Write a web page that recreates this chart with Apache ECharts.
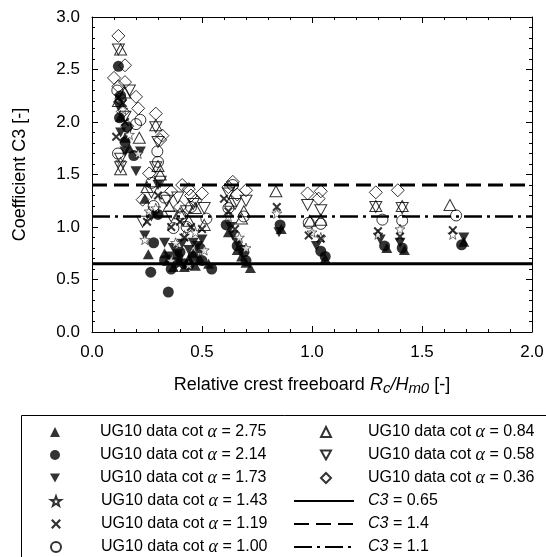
<!DOCTYPE html>
<html><head><meta charset="utf-8">
<script src="https://cdn.jsdelivr.net/npm/echarts@6/dist/echarts.min.js"></script>
<style>html,body{margin:0;padding:0;background:#fff}#c{width:546px;height:557px}</style>
</head><body><div id="c"></div>
<script>
// ---- data ----
const xTicks = [0, 0.5, 1.0, 1.5, 2.0];
const yTicks = [0, 0.5, 1.0, 1.5, 2.0, 2.5, 3.0];

const x275 = [0.13,0.17,0.15,0.24,0.256,0.33,0.35,0.37,0.40,0.42,0.44,0.46,0.47,0.49,0.53,0.62,0.66,0.68,0.70,0.72,0.86,1.06,1.34,1.42,1.69];
const y275 = [2.05,1.75,1.85,1.27,0.74,0.75,0.70,0.62,0.68,0.62,0.70,0.75,0.63,0.70,0.65,0.95,0.78,0.72,0.66,0.61,0.98,0.70,0.80,0.78,0.86];

const x214 = [0.12,0.125,0.13,0.15,0.16,0.19,0.267,0.28,0.30,0.33,0.347,0.36,0.38,0.39,0.40,0.42,0.44,0.46,0.49,0.50,0.544,0.61,0.66,0.69,0.70,0.855,1.04,1.06,1.33,1.41,1.68];
const y214 = [2.53,2.04,2.25,1.81,1.95,1.68,0.57,0.85,1.12,0.68,0.38,0.60,0.66,0.72,0.76,0.65,0.64,0.72,0.80,0.68,0.60,1.02,0.82,0.76,0.68,1.02,0.77,0.72,0.82,0.80,0.83];

const x173 = [0.12,0.13,0.15,0.20,0.22,0.30,0.27,0.24,0.33,0.35,0.37,0.39,0.41,0.44,0.46,0.48,0.50,0.63,0.64,0.66,0.68,0.85,1.02,1.31,1.40,1.69];
const y173 = [2.15,1.90,1.72,1.53,1.72,1.40,1.10,0.92,0.85,0.72,0.80,0.74,0.84,0.78,0.85,0.82,0.88,1.00,0.92,0.85,0.78,0.95,0.82,0.88,0.85,0.90];

const x143 = [0.14,0.21,0.17,0.13,0.24,0.26,0.29,0.38,0.42,0.47,0.51,0.36,0.44,0.62,0.67,0.70,0.84,1.00,1.04,1.30,1.40,1.64];
const y143 = [2.12,1.70,1.88,1.62,0.88,1.15,1.18,0.85,0.92,0.95,0.78,0.68,0.64,1.10,0.90,0.80,1.13,0.95,0.90,0.93,0.98,0.93];

const x119 = [0.12,0.11,0.15,0.14,0.25,0.30,0.29,0.36,0.40,0.45,0.42,0.50,0.60,0.62,0.65,0.84,0.985,1.04,1.30,1.40,1.64];
const y119 = [2.23,1.86,2.00,2.18,1.05,1.30,1.12,1.00,1.05,1.00,0.90,0.98,1.27,1.15,0.98,1.19,0.92,0.89,0.96,0.91,0.97];

const x100 = [0.115,0.118,0.13,0.22,0.20,0.297,0.30,0.28,0.27,0.33,0.37,0.41,0.45,0.43,0.52,0.62,0.64,0.69,0.985,1.04,1.32,1.41,1.655];
const y100 = [2.30,1.70,2.22,2.02,1.98,1.72,1.62,1.20,1.42,1.28,0.99,1.10,1.19,1.00,1.08,1.18,1.40,1.10,1.04,1.03,1.07,1.06,1.11];

const x084 = [0.13,0.12,0.15,0.13,0.215,0.29,0.30,0.31,0.25,0.35,0.40,0.44,0.47,0.51,0.63,0.68,0.69,0.836,0.99,1.04,1.29,1.41,1.627];
const y084 = [2.69,2.20,2.28,1.55,1.85,1.97,1.58,1.50,1.38,1.20,1.13,1.06,1.18,1.02,1.25,1.08,1.15,1.34,1.06,1.07,1.20,1.20,1.21];

const x058 = [0.12,0.13,0.13,0.17,0.15,0.29,0.30,0.29,0.31,0.23,0.27,0.34,0.36,0.39,0.43,0.46,0.51,0.62,0.65,0.70,0.98,1.04,1.29,1.41];
const y058 = [2.69,1.65,1.57,2.30,2.05,1.95,1.81,1.57,1.43,1.05,1.33,1.25,1.10,1.28,1.15,1.22,1.18,1.32,1.22,1.25,1.21,1.16,1.19,1.18];

const x036 = [0.12,0.15,0.10,0.15,0.12,0.20,0.21,0.16,0.14,0.29,0.32,0.31,0.26,0.23,0.36,0.41,0.45,0.50,0.40,0.44,0.47,0.64,0.62,0.70,0.66,0.98,1.04,1.03,1.29,1.39];
const y036 = [2.82,2.54,2.42,2.38,2.34,2.24,2.13,1.96,2.10,2.08,1.87,1.83,1.51,1.26,1.34,1.40,1.30,1.32,1.19,1.36,1.25,1.43,1.38,1.35,1.31,1.32,1.34,1.27,1.33,1.35];

const c3Levels = [0.65, 1.4, 1.1];

// ---- chart ----
const FONT = 'Liberation Sans';
const pair = (xs, ys) => xs.map((x, i) => [x, ys[i]]);
const TRI_DOWN = 'path://M0,0L10,0L5,9Z';
const STAR = 'path://M5,0L6.18,3.38L9.76,3.45L6.9,5.62L7.94,9.05L5,7L2.06,9.05L3.1,5.62L0.24,3.45L3.82,3.38Z';
const CROSS = 'path://M0,1.6L1.6,0L5,3.4L8.4,0L10,1.6L6.6,5L10,8.4L8.4,10L5,6.6L1.6,10L0,8.4L3.4,5Z';

const filled = {color: '#000'};
const open = {color: 'rgba(255,255,255,0)', borderColor: '#000', borderWidth: 1};

const scatterDefs = [
  {cot: '2.75', data: pair(x275, y275), symbol: 'triangle', size: [11, 10], style: filled},
  {cot: '2.14', data: pair(x214, y214), symbol: 'circle', size: 11, style: filled},
  {cot: '1.73', data: pair(x173, y173), symbol: TRI_DOWN, size: [11, 10], style: filled},
  {cot: '1.43', data: pair(x143, y143), symbol: STAR, size: 10, style: {color: '#fff', borderColor: '#000', borderWidth: 0.7}},
  {cot: '1.19', data: pair(x119, y119), symbol: CROSS, size: 9, style: filled},
  {cot: '1.00', data: pair(x100, y100), symbol: 'circle', size: 11, style: open},
  {cot: '0.84', data: pair(x084, y084), symbol: 'triangle', size: [12, 11], style: open},
  {cot: '0.58', data: pair(x058, y058), symbol: TRI_DOWN, size: [12, 11], style: open},
  {cot: '0.36', data: pair(x036, y036), symbol: 'diamond', size: [13, 13], style: open}
];
const scatterName = d => 'UG10 data cot α = ' + d.cot;

const lineStyles = [
  {type: 'solid', width: 3},
  {type: [15, 7], width: 3},
  {type: [18, 5, 3, 5], width: 2.5}
];

const series = [];
scatterDefs.forEach((d, i) => {
  series.push({
    type: 'scatter', name: scatterName(d), data: d.data,
    symbol: d.symbol, symbolSize: d.size, itemStyle: d.style,
    z: 2 + (i < 5 ? 0 : 1), silent: true
  });
});
c3Levels.forEach((v, i) => {
  series.push({
    type: 'line', name: 'C3 = ' + v, data: [[xTicks[0], v], [xTicks[xTicks.length - 1], v]],
    symbol: 'none', showSymbol: false, silent: true, z: 5,
    itemStyle: {color: 'rgba(0,0,0,0)', borderWidth: 0},
    lineStyle: {color: '#000', width: lineStyles[i].width, type: lineStyles[i].type}
  });
});

const legendFormatter = name => {
  if (name.indexOf('C3') === 0) return '{i|C3}' + name.slice(2);
  return name.replace('α', '{a|α}');
};
const legendText = pad => ({
  fontFamily: FONT, fontSize: 16, color: '#000', lineHeight: 18, padding: [0, 0, 0, pad],
  rich: {
    a: {fontFamily: 'Liberation Serif', fontStyle: 'italic', fontSize: 18, color: '#000', lineHeight: 18},
    i: {fontFamily: FONT, fontStyle: 'italic', fontSize: 16, color: '#000', lineHeight: 18}
  }
});
const names = series.map(s => s.name);
const legendBlock = (items, left, top, w, h, pad) => ({
  data: items, orient: 'vertical', left: left, top: top, padding: 0,
  itemWidth: w, itemHeight: h, itemGap: 5, selectedMode: false,
  formatter: legendFormatter, textStyle: legendText(pad)
});

const axisCommon = {
  type: 'value', splitLine: {show: false},
  axisLine: {show: true, onZero: false, lineStyle: {color: '#000', width: 1}},
  axisTick: {show: true, inside: true, length: 6, lineStyle: {color: '#000'}},
  minorTick: {show: true, splitNumber: 5, length: 3, lineStyle: {color: '#000'}},
  minorSplitLine: {show: false}
};

const option = {
  backgroundColor: '#fff',
  animation: false,
  grid: {left: 92, right: 14, top: 17, bottom: 225, containLabel: false, outerBoundsMode: 'none'},
  xAxis: [
    Object.assign({}, axisCommon, {
      position: 'bottom', min: xTicks[0], max: xTicks[xTicks.length - 1], interval: xTicks[1] - xTicks[0],
      axisLabel: {show: true, margin: 12, fontFamily: FONT, fontSize: 17, color: '#000', formatter: v => v.toFixed(1)},
      name: '{t|Relative crest freeboard }{i|R}{s|c}{i|/H}{s|m0}{t| [-]}',
      nameLocation: 'middle', nameGap: 42,
      nameTextStyle: {
        fontFamily: FONT, fontSize: 18, color: '#000',
        rich: {
          t: {fontFamily: FONT, fontSize: 18, color: '#000', lineHeight: 22},
          i: {fontFamily: FONT, fontSize: 18, fontStyle: 'italic', color: '#000', lineHeight: 22},
          s: {fontFamily: FONT, fontSize: 15, fontStyle: 'italic', color: '#000', lineHeight: 15, verticalAlign: 'bottom'}
        }
      }
    }),
    Object.assign({}, axisCommon, {
      position: 'top', min: xTicks[0], max: xTicks[xTicks.length - 1], interval: xTicks[1] - xTicks[0],
      axisLabel: {show: false}
    })
  ],
  yAxis: [
    Object.assign({}, axisCommon, {
      position: 'left', min: yTicks[0], max: yTicks[yTicks.length - 1], interval: yTicks[1] - yTicks[0],
      axisLabel: {show: true, margin: 12, fontFamily: FONT, fontSize: 17, color: '#000', formatter: v => v.toFixed(1)},
      name: 'Coefficient C3 [-]', nameLocation: 'middle', nameGap: 63, nameRotate: 90,
      nameTextStyle: {fontFamily: FONT, fontSize: 18, color: '#000'}
    }),
    Object.assign({}, axisCommon, {
      position: 'right', min: yTicks[0], max: yTicks[yTicks.length - 1], interval: yTicks[1] - yTicks[0],
      axisLabel: {show: false}
    })
  ],
  legend: [
    legendBlock(names.slice(0, 3), 50, 423, 10, 10, 35),
    legendBlock(names.slice(3, 6), 50, 492, 10, 10, 35),
    legendBlock(names.slice(6, 9), 320, 423, 10, 10, 32),
    legendBlock(names.slice(9, 12), 293, 492, 60, 10, 9)
  ],
  graphic: [{
    type: 'rect', left: 19, top: 413, silent: true,
    shape: {width: 600, height: 300},
    style: {fill: 'none', stroke: '#000', lineWidth: 1}
  }],
  series: series
};

const chart = echarts.init(document.getElementById('c'), null, {renderer: 'canvas'});
chart.setOption(option);
</script>
</body></html>
